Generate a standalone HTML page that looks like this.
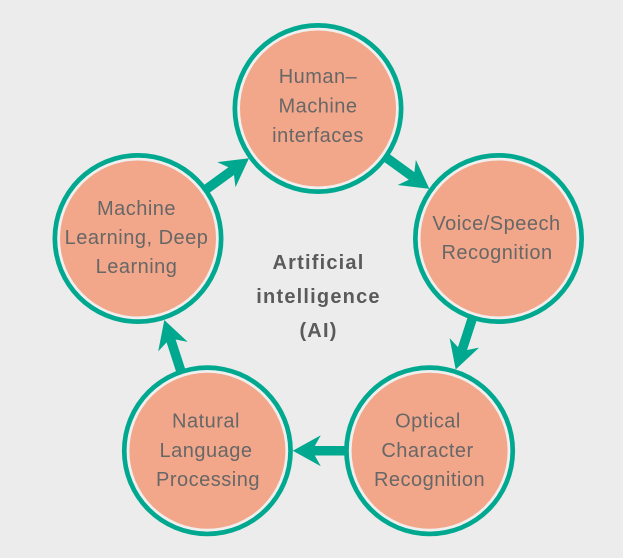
<!DOCTYPE html>
<html>
<head>
<meta charset="utf-8">
<style>
  html, body { margin: 0; padding: 0; background: #ececec; }
  body { width: 623px; height: 558px; overflow: hidden; }
  svg { display: block; }
  .n { font-family: "Liberation Sans", "DejaVu Sans", sans-serif; font-size: 20px; fill: #676767; letter-spacing: 0.5px; text-anchor: middle; }
  .c { font-family: "Liberation Sans", "DejaVu Sans", sans-serif; font-size: 20px; font-weight: bold; fill: #5a5a5a; letter-spacing: 1.2px; text-anchor: middle; }
</style>
</head>
<body>
<svg width="623" height="558" viewBox="0 0 623 558" xmlns="http://www.w3.org/2000/svg">
  <rect x="0" y="0" width="623" height="558" fill="#ececec"/>

  <!-- arrows (drawn under circles) -->
  <g fill="#00a88f">
    <!-- top -> voice -->
    <g transform="translate(429.4,188.9) rotate(36)">
      <polygon points="0,0 -28,-15.5 -22,-4.75 -80,-4.75 -80,4.75 -22,4.75 -28,15.5"/>
    </g>
    <!-- voice -> optical -->
    <g transform="translate(455.7,369.5) rotate(108)">
      <polygon points="0,0 -28,-15.5 -22,-4.75 -80,-4.75 -80,4.75 -22,4.75 -28,15.5"/>
    </g>
    <!-- optical -> NLP -->
    <g transform="translate(292.8,450.8) rotate(180)">
      <polygon points="0,0 -28,-15.5 -22,-4.75 -80,-4.75 -80,4.75 -22,4.75 -28,15.5"/>
    </g>
    <!-- NLP -> ML -->
    <g transform="translate(164.3,320) rotate(252)">
      <polygon points="0,0 -28,-15.5 -22,-4.75 -80,-4.75 -80,4.75 -22,4.75 -28,15.5"/>
    </g>
    <!-- ML -> top -->
    <g transform="translate(249,158.2) rotate(324)">
      <polygon points="0,0 -28,-15.5 -22,-4.75 -80,-4.75 -80,4.75 -22,4.75 -28,15.5"/>
    </g>
  </g>

  <!-- circles -->
  <g>
    <circle cx="318" cy="108.5" r="85.5" fill="#00a88f"/>
    <circle cx="318" cy="108.5" r="80.8" fill="#efefef"/>
    <circle cx="318" cy="108.5" r="78" fill="#f2a78a"/>

    <circle cx="498.5" cy="238.5" r="85.5" fill="#00a88f"/>
    <circle cx="498.5" cy="238.5" r="80.8" fill="#efefef"/>
    <circle cx="498.5" cy="238.5" r="78" fill="#f2a78a"/>

    <circle cx="429.6" cy="450.8" r="85.5" fill="#00a88f"/>
    <circle cx="429.6" cy="450.8" r="80.8" fill="#efefef"/>
    <circle cx="429.6" cy="450.8" r="78" fill="#f2a78a"/>

    <circle cx="207.4" cy="450.8" r="85.5" fill="#00a88f"/>
    <circle cx="207.4" cy="450.8" r="80.8" fill="#efefef"/>
    <circle cx="207.4" cy="450.8" r="78" fill="#f2a78a"/>

    <circle cx="138" cy="238.5" r="85.5" fill="#00a88f"/>
    <circle cx="138" cy="238.5" r="80.8" fill="#efefef"/>
    <circle cx="138" cy="238.5" r="78" fill="#f2a78a"/>
  </g>

  <!-- node labels -->
  <text class="n" x="318" y="83">Human–</text>
  <text class="n" x="318" y="112.5">Machine</text>
  <text class="n" x="318" y="142">interfaces</text>

  <text class="n" x="496.5" y="230">Voice/Speech</text>
  <text class="n" x="497" y="259">Recognition</text>

  <text class="n" x="428" y="427.5">Optical</text>
  <text class="n" x="427.5" y="457">Character</text>
  <text class="n" x="429.5" y="486">Recognition</text>

  <text class="n" x="206" y="427.5">Natural</text>
  <text class="n" x="206" y="457">Language</text>
  <text class="n" x="208" y="486">Processing</text>

  <text class="n" x="136.5" y="215">Machine</text>
  <text class="n" x="136.5" y="244">Learning, Deep</text>
  <text class="n" x="136.5" y="273">Learning</text>

  <!-- center label -->
  <text class="c" x="318.5" y="269">Artificial</text>
  <text class="c" x="318.5" y="303">intelligence</text>
  <text class="c" x="318.5" y="337">(AI)</text>
</svg>
</body>
</html>
